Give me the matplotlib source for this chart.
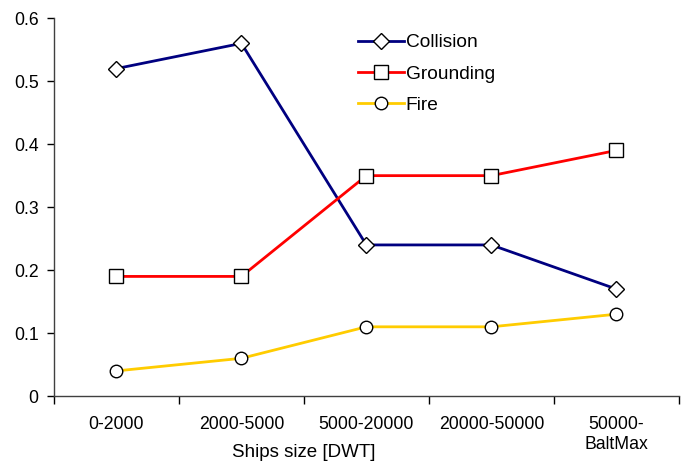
import matplotlib.pyplot as plt
import numpy as np
from matplotlib.lines import Line2D

categories = ["0-2000", "2000-5000", "5000-20000", "20000-50000", "50000-\nBaltMax"]
collision = [0.52, 0.56, 0.24, 0.24, 0.17]
grounding = [0.19, 0.19, 0.35, 0.35, 0.39]
fire = [0.04, 0.06, 0.11, 0.11, 0.13]

plt.rcParams['font.family'] = ['Liberation Sans', 'DejaVu Sans']

fig = plt.figure(figsize=(6.87, 4.66), dpi=100)
ax = fig.add_axes([0.0786, 0.150, 0.9094, 0.811])

x = np.arange(len(categories))
series = [
    ("Collision", collision, "#000080", "D", 8),
    ("Grounding", grounding, "#FF0000", "s", 9.5),
    ("Fire", fire, "#FFCC00", "o", 9),
]

handles = []
for name, vals, color, marker, ms in series:
    ax.plot(x, vals, color=color, lw=2, zorder=2)
    ax.plot(x, vals, linestyle="none", marker=marker, markersize=ms,
            markerfacecolor="white", markeredgecolor="black",
            markeredgewidth=1, zorder=3)
    handles.append(Line2D([], [], color=color, lw=2, marker=marker,
                          markersize=ms, markerfacecolor="white",
                          markeredgecolor="black", markeredgewidth=1,
                          label=name))

ax.set_xlim(-0.5, len(categories) - 0.5)
ax.set_ylim(0, 0.6)
ax.set_yticks(np.arange(0, 0.61, 0.1))
ax.set_yticklabels(["0", "0.1", "0.2", "0.3", "0.4", "0.5", "0.6"])

ax.set_xticks(x)
ax.set_xticklabels(categories, va="top", linespacing=1.3)
ax.set_xticks(np.arange(-0.5, len(categories), 1), minor=True)
ax.tick_params(axis="x", which="major", length=0, pad=14)
ax.tick_params(axis="x", which="minor", length=6, direction="out", width=1)
ax.tick_params(axis="y", length=5, direction="out", width=1, pad=6)
ax.tick_params(labelsize=12.7)

for s in ["top", "right"]:
    ax.spines[s].set_visible(False)
for s in ["left", "bottom"]:
    ax.spines[s].set_color("#404040")
    ax.spines[s].set_linewidth(1)

ax.set_xlabel("Ships size [DWT]", fontsize=13.5, va="top")
ax.xaxis.set_label_coords(0.40, -0.128)

ax.legend(handles=handles, loc="upper left", bbox_to_anchor=(0.486, 0.958),
          frameon=False, fontsize=13.8, handlelength=2.4, handletextpad=0.1,
          labelspacing=0.72, borderpad=0, borderaxespad=0)

fig.savefig("out.png", dpi=100)
